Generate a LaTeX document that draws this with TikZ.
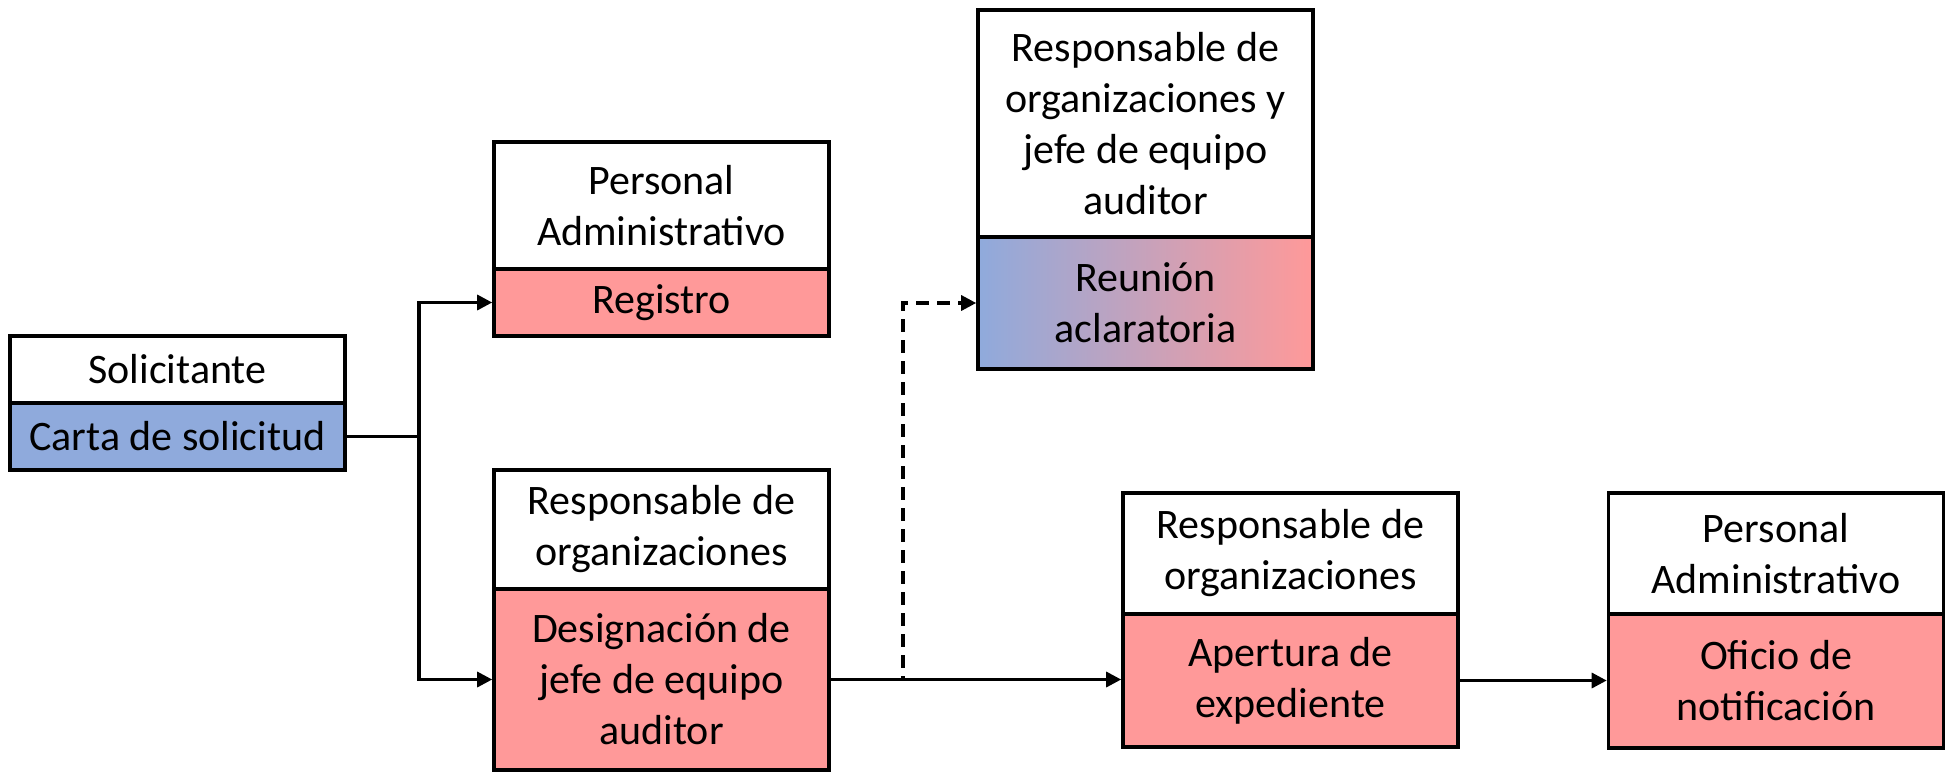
\documentclass[tikz,border=0pt]{standalone}
\usepackage{fontspec}
\setmainfont{Carlito}
\usetikzlibrary{arrows.meta}
\definecolor{cblue}{HTML}{8FAADC}
\definecolor{cred}{HTML}{FF9999}
\begin{document}
\begin{tikzpicture}[x=0.5pt,y=-0.5pt,
  cell/.style={draw=black,line width=1.8pt,rectangle,minimum width=167.5pt,inner sep=0pt,align=center,
    font=\fontsize{21}{25.5}\selectfont,text=black},
  hdr/.style={cell,fill=white},
  redc/.style={cell,fill=cred},
  bluec/.style={cell,fill=cblue},
  conn/.style={line width=1.6pt,-{Triangle[length=7.5pt,width=7.5pt]}},
  plain/.style={line width=1.6pt},
]
\useasboundingbox (0,0) rectangle (1946,772);
% Solicitante
\node[hdr,minimum height=33.5pt] (solt) at (177.5,369.5) {Solicitante};
\node[bluec,minimum height=33.5pt] (solb) at (177.5,436.5) {Carta de solicitud};
% Registro
\node[hdr,minimum height=63.5pt] (regt) at (661.5,205.5) {Personal\\Administrativo};
\node[redc,minimum height=33.5pt] (regb) at (661.5,302.5) {Registro};
% Designacion
\node[hdr,minimum height=59.5pt] (dest) at (661.5,529.5) {Responsable de\\organizaciones};
\node[redc,minimum height=90.5pt] (desb) at (661.5,679.5) {Designación de\\jefe de equipo\\auditor};
% Reunion
\node[hdr,minimum height=113.5pt] (reut) at (1145.5,123.5) {Responsable de\\organizaciones y\\jefe de equipo\\auditor};
\node[cell,left color=cblue,right color=cred,minimum height=66pt] (reub) at (1145.5,303) {Reunión\\aclaratoria};
% Apertura
\node[hdr,minimum height=60.5pt] (apt) at (1290.5,553.5) {Responsable de\\organizaciones};
\node[redc,minimum height=66.5pt] (apb) at (1290.5,680.5) {Apertura de\\expediente};
% Oficio
\node[hdr,minimum height=60.5pt] (oft) at (1776,553.5) {Personal\\Administrativo};
\node[redc,minimum height=67pt] (ofb) at (1776,681) {Oficio de\\notificación};
% connectors
\coordinate (j) at (419,436.5);
\coordinate (d) at (903,679.5);
\draw[plain] (solb.east) -- (j);
\draw[conn] (j) |- (regb.west);
\draw[conn] (j) |- (desb.west);
\draw[conn,dash pattern=on 6.5pt off 4pt] (desb.east) -- (d) |- (reub.west);
\draw[conn] (desb.east) -- (apb.west |- desb.east);
\draw[conn] (apb.east) -- (ofb.west |- apb.east);
\end{tikzpicture}
\end{document}
